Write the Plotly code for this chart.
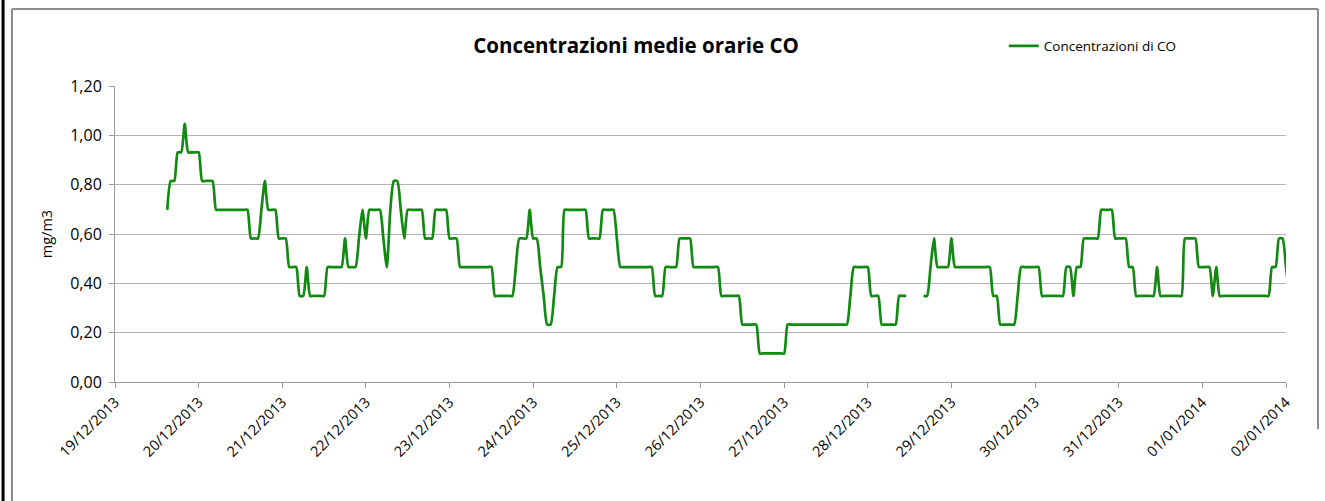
import pandas as pd
import plotly.graph_objects as go

# Hourly mean CO concentrations (mg/m3), starting 19/12/2013 15:00
start_time = "2013-12-19 15:00"
co_values = [
    # 19/12 (15:00-23:00)
    0.698, 0.815, 0.815, 0.931, 0.931, 1.047, 0.931, 0.931, 0.931,
    # 20/12
    0.931, 0.815, 0.815, 0.815, 0.815, 0.698, 0.698, 0.698, 0.698, 0.698, 0.698, 0.698,
    0.698, 0.698, 0.698, 0.582, 0.582, 0.582, 0.698, 0.815, 0.698, 0.698, 0.698, 0.582,
    # 21/12
    0.582, 0.582, 0.466, 0.466, 0.466, 0.349, 0.349, 0.466, 0.349, 0.349, 0.349, 0.349,
    0.349, 0.466, 0.466, 0.466, 0.466, 0.466, 0.582, 0.466, 0.466, 0.466, 0.582, 0.698,
    # 22/12
    0.582, 0.698, 0.698, 0.698, 0.698, 0.582, 0.466, 0.698, 0.815, 0.815, 0.698, 0.582,
    0.698, 0.698, 0.698, 0.698, 0.698, 0.582, 0.582, 0.582, 0.698, 0.698, 0.698, 0.698,
    # 23/12
    0.582, 0.582, 0.582, 0.466, 0.466, 0.466, 0.466, 0.466, 0.466, 0.466, 0.466, 0.466,
    0.466, 0.349, 0.349, 0.349, 0.349, 0.349, 0.349, 0.466, 0.582, 0.582, 0.582, 0.698,
    # 24/12
    0.582, 0.582, 0.466, 0.349, 0.233, 0.233, 0.349, 0.466, 0.466, 0.698, 0.698, 0.698,
    0.698, 0.698, 0.698, 0.698, 0.582, 0.582, 0.582, 0.582, 0.698, 0.698, 0.698, 0.698,
    # 25/12
    0.582, 0.466, 0.466, 0.466, 0.466, 0.466, 0.466, 0.466, 0.466, 0.466, 0.466, 0.349,
    0.349, 0.349, 0.466, 0.466, 0.466, 0.466, 0.582, 0.582, 0.582, 0.582, 0.466, 0.466,
    # 26/12
    0.466, 0.466, 0.466, 0.466, 0.466, 0.466, 0.349, 0.349, 0.349, 0.349, 0.349, 0.349,
    0.233, 0.233, 0.233, 0.233, 0.233, 0.116, 0.116, 0.116, 0.116, 0.116, 0.116, 0.116,
    # 27/12
    0.116, 0.233, 0.233, 0.233, 0.233, 0.233, 0.233, 0.233, 0.233, 0.233, 0.233, 0.233,
    0.233, 0.233, 0.233, 0.233, 0.233, 0.233, 0.233, 0.349, 0.466, 0.466, 0.466, 0.466,
    # 28/12
    0.466, 0.349, 0.349, 0.349, 0.233, 0.233, 0.233, 0.233, 0.233, 0.349, 0.349, 0.349,
    None, None, None, None, 0.349, 0.349, 0.466, 0.582, 0.466, 0.466, 0.466, 0.466,
    # 29/12
    0.582, 0.466, 0.466, 0.466, 0.466, 0.466, 0.466, 0.466, 0.466, 0.466, 0.466, 0.466,
    0.349, 0.349, 0.233, 0.233, 0.233, 0.233, 0.233, 0.349, 0.466, 0.466, 0.466, 0.466,
    # 30/12
    0.466, 0.466, 0.349, 0.349, 0.349, 0.349, 0.349, 0.349, 0.349, 0.466, 0.466, 0.349,
    0.466, 0.466, 0.582, 0.582, 0.582, 0.582, 0.582, 0.698, 0.698, 0.698, 0.698, 0.582,
    # 31/12
    0.582, 0.582, 0.582, 0.466, 0.466, 0.349, 0.349, 0.349, 0.349, 0.349, 0.349, 0.466,
    0.349, 0.349, 0.349, 0.349, 0.349, 0.349, 0.349, 0.582, 0.582, 0.582, 0.582, 0.466,
    # 01/01
    0.466, 0.466, 0.466, 0.349, 0.466, 0.349, 0.349, 0.349, 0.349, 0.349, 0.349, 0.349,
    0.349, 0.349, 0.349, 0.349, 0.349, 0.349, 0.349, 0.349, 0.466, 0.466, 0.582, 0.582,
    # 02/01
    0.466, 0.349,
]

series_name = "Concentrazioni di CO"
title_text = "Concentrazioni medie orarie CO"
y_title = "mg/m3"
x_range = ["2013-12-19", "2014-01-02"]
y_ticks = [0.0, 0.2, 0.4, 0.6, 0.8, 1.0, 1.2]

times = pd.date_range(start=start_time, periods=len(co_values), freq="h")

fig = go.Figure()
fig.add_trace(go.Scatter(
    x=times, y=co_values, mode="lines", name=series_name,
    line=dict(color="#128A12", width=2.7, shape="spline", smoothing=0.6),
    connectgaps=False,
))

axis_gray = "#9a9a9a"
font_family = "Open Sans, Liberation Sans, sans-serif"

fig.update_layout(
    width=1325, height=501,
    margin=dict(l=115, r=39, t=86, b=119),
    paper_bgcolor="white", plot_bgcolor="white",
    separators=", ",
    font=dict(family=font_family, color="#262626", size=13),
    title=dict(text="<b>" + title_text + "</b>", x=0.48, xanchor="center",
               y=0.908, yanchor="middle",
               font=dict(family=font_family, size=20.5, color="#000000")),
    showlegend=True,
    legend=dict(x=0.759, y=0.908, xref="paper", yref="container", xanchor="left", yanchor="middle",
                font=dict(size=13.5, color="#000000"), bgcolor="rgba(0,0,0,0)",
                itemwidth=30),
    xaxis=dict(
        type="date", range=x_range, dtick=86400000, tick0="2013-12-19",
        tickformat="%d/%m/%Y", tickangle=-45,
        showgrid=False, showline=True, linecolor=axis_gray, linewidth=1,
        ticks="outside", ticklen=5, tickcolor=axis_gray,
        tickfont=dict(size=14.5, color="#000000"), zeroline=False,
    ),
    yaxis=dict(
        range=[0, 1.2], tickvals=y_ticks, tickformat=".2f",
        showgrid=True, gridcolor="#b4b4b4", gridwidth=1,
        showline=True, linecolor=axis_gray, linewidth=1,
        ticks="outside", ticklen=5, tickcolor=axis_gray,
        tickfont=dict(size=16, color="#000000"), zeroline=False,
        ticklabelstandoff=4,
        title=dict(text=y_title, font=dict(size=14.5, color="#000000"), standoff=14),
    ),
)

# chart frame
frame_gray = "#8c8c8c"
fig.add_shape(type="line", xref="paper", yref="paper", x0=-0.088, x1=1.0273, y0=1.26, y1=1.26,
              line=dict(color=frame_gray, width=2))
fig.add_shape(type="line", xref="paper", yref="paper", x0=-0.088, x1=-0.088, y0=1.26, y1=-0.45,
              line=dict(color=frame_gray, width=2))
fig.add_shape(type="line", xref="paper", yref="paper", x0=1.0273, x1=1.0273, y0=1.26, y1=-0.16,
              line=dict(color=frame_gray, width=2))
fig.add_shape(type="line", xref="paper", yref="paper", x0=-0.0956, x1=-0.0956, y0=1.32, y1=-0.45,
              line=dict(color="#000000", width=3))

fig.write_html("out.html", config={"displayModeBar": False},
               post_script="document.body.style.margin='0';")
